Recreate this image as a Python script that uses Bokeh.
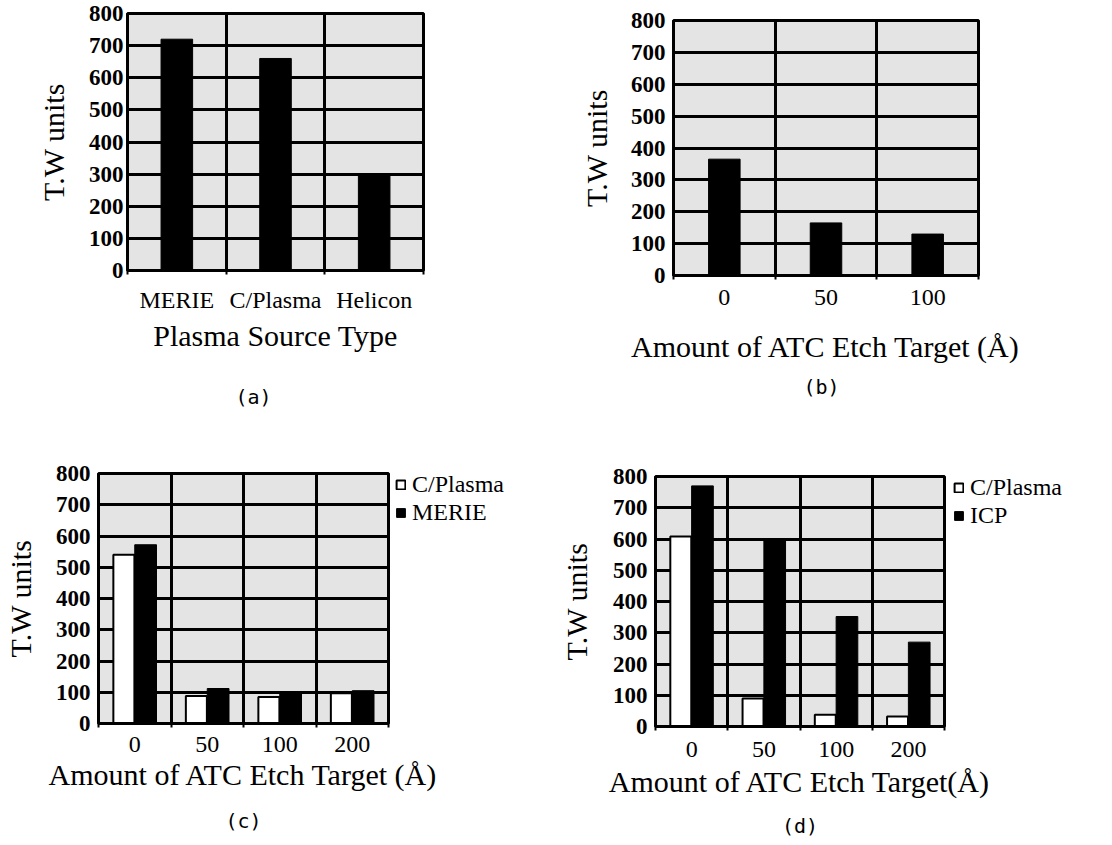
import numpy as np
from bokeh.plotting import figure
from bokeh.models import (Range1d, FixedTicker, Legend, LegendItem, ColumnDataSource,
                          LinearAxis, Title)
from bokeh.transform import dodge
from bokeh.embed import file_html
from bokeh.resources import INLINE

# ---------------- data ----------------
y_ticks = [0, 100, 200, 300, 400, 500, 600, 700, 800]

a_cats = ["MERIE", "C/Plasma", "Helicon"]
a_vals = [720, 660, 300]

b_cats = ["0", "50", "100"]
b_vals = [365, 165, 130]

c_cats = ["0", "50", "100", "200"]
c_cplasma = [540, 88, 85, 97]
c_merie = [572, 112, 100, 105]

d_cats = ["0", "50", "100", "200"]
d_cplasma = [608, 90, 38, 32]
d_icp = [770, 595, 352, 270]

a_xtitle = "Plasma Source Type"
b_xtitle = "Amount of ATC Etch Target (Å)"
c_xtitle = "Amount of ATC Etch Target (Å)"
d_xtitle = "Amount of ATC Etch Target(Å)"
y_title = "T.W units"

SERIF = "Liberation Serif"
MONO = "DejaVu Sans Mono"
BG = "#e4e4e4"


def make_fig(name, cats, w, h, bl, br, bt, bb, xtitle,
             ytick_standoff, ylab_standoff, xtick_standoff, xlab_standoff):
    n = len(cats)
    p = figure(name=name, width=w, height=h,
               x_range=Range1d(-0.5, n - 0.5), y_range=Range1d(0, 800),
               output_backend="svg", toolbar_location=None,
               min_border_left=bl, min_border_right=br,
               min_border_top=bt, min_border_bottom=bb)
    p.background_fill_color = BG
    p.border_fill_alpha = 0
    p.outline_line_color = "black"
    p.outline_line_width = 3

    # x axis
    p.xaxis.ticker = FixedTicker(ticks=list(range(n)),
                                 minor_ticks=[i - 0.5 for i in range(n + 1)])
    p.xaxis.major_label_overrides = {i: c for i, c in enumerate(cats)}
    p.xaxis.major_label_text_font = SERIF
    p.xaxis.major_label_text_font_size = "24px"
    p.xaxis.major_label_text_color = "black"
    p.xaxis.major_label_standoff = xtick_standoff
    p.xaxis.major_tick_line_color = None
    p.xaxis.major_tick_out = 0
    p.xaxis.major_tick_in = 0
    p.xaxis.minor_tick_line_color = "black"
    p.xaxis.minor_tick_line_width = 2
    p.xaxis.minor_tick_out = 4
    p.xaxis.minor_tick_in = 0
    p.xaxis.axis_line_color = "black"
    p.xaxis.axis_line_width = 3
    p.xaxis.axis_label = xtitle
    p.xaxis.axis_label_text_font = SERIF
    p.xaxis.axis_label_text_font_size = "30px"
    p.xaxis.axis_label_text_font_style = "normal"
    p.xaxis.axis_label_text_color = "black"
    p.xaxis.axis_label_standoff = xlab_standoff

    # y axis
    p.yaxis.ticker = FixedTicker(ticks=y_ticks)
    p.yaxis.major_label_text_font = SERIF
    p.yaxis.major_label_text_font_size = "23px"
    p.yaxis.major_label_text_font_style = "bold"
    p.yaxis.major_label_text_color = "black"
    p.yaxis.major_label_standoff = ytick_standoff
    p.yaxis.major_tick_line_color = None
    p.yaxis.major_tick_out = 0
    p.yaxis.major_tick_in = 0
    p.yaxis.minor_tick_line_color = None
    p.yaxis.axis_line_color = "black"
    p.yaxis.axis_line_width = 3
    p.yaxis.axis_label = y_title
    p.yaxis.axis_label_text_font = SERIF
    p.yaxis.axis_label_text_font_size = "30px"
    p.yaxis.axis_label_text_font_style = "normal"
    p.yaxis.axis_label_text_color = "black"
    p.yaxis.axis_label_standoff = ylab_standoff

    # grids (lines at the band boundaries)
    p.xgrid.ticker = FixedTicker(ticks=[i + 0.5 for i in range(n - 1)])
    p.ygrid.ticker = FixedTicker(ticks=y_ticks[1:-1])
    for g in (p.xgrid, p.ygrid):
        g.grid_line_color = "black"
        g.grid_line_width = 3
    return p


def tag_title(p, tag, offset, standoff):
    p.add_layout(Title(text=tag, align="left", offset=offset, standoff=standoff,
                       text_font=MONO, text_font_size="20px", text_font_style="normal",
                       text_color="black"), "below")


def tag_axis(p, tag, standoff):
    p.add_layout(LinearAxis(ticker=FixedTicker(ticks=[]),
                            axis_line_color=None,
                            major_tick_line_color=None, minor_tick_line_color=None,
                            major_tick_out=0, major_tick_in=0,
                            minor_tick_out=0, minor_tick_in=0,
                            major_label_standoff=0,
                            major_label_text_font_size="0px",
                            axis_label=tag, axis_label_standoff=standoff,
                            axis_label_text_font=MONO,
                            axis_label_text_font_size="20px",
                            axis_label_text_font_style="normal",
                            axis_label_text_color="black"), "below")


# (a)
pa = make_fig("pa", a_cats, 556, 445, 127, 133, 13, 175, a_xtitle, 4, 16, 12, 3)
tag_title(pa, "(a)", 108, 56)
src_a = ColumnDataSource(dict(x=list(range(len(a_cats))), v=a_vals))
pa.vbar(x="x", top="v", width=0.32, source=src_a, fill_color="black", line_color="black")

# (b)
pb = make_fig("pb", b_cats, 556, 420, 117, 134, 20, 145, b_xtitle, 8, 15, 10, 22)
tag_title(pb, "(b)", 130, 14)
src_b = ColumnDataSource(dict(x=list(range(len(b_cats))), v=b_vals))
pb.vbar(x="x", top="v", width=0.31, source=src_b, fill_color="black", line_color="black")


def grouped(p, cats, s1, s2):
    src = ColumnDataSource(dict(x=list(range(len(cats))), s1=s1, s2=s2))
    p.vbar(x=dodge("x", -0.15, range=p.x_range), top="s1", width=0.29, source=src,
           fill_color="white", line_color="black", line_width=2)
    p.vbar(x=dodge("x", 0.15, range=p.x_range), top="s2", width=0.3, source=src,
           fill_color="black", line_color="black")


def legend_fig(name, n1, n2):
    # a small frameless figure that only carries the series key
    lf = figure(name=name, width=140, height=62, x_range=Range1d(0, 1), y_range=Range1d(0, 1),
                x_axis_type=None, y_axis_type=None, output_backend="svg",
                toolbar_location=None, min_border=0)
    lf.outline_line_color = None
    lf.background_fill_alpha = 0
    lf.border_fill_alpha = 0
    lf.grid.visible = False
    key = ColumnDataSource(dict(x=np.array([np.nan]), top=np.array([np.nan])))
    r1 = lf.vbar(x="x", top="top", width=0.3, source=key,
                 fill_color="white", line_color="black", line_width=2)
    r2 = lf.vbar(x="x", top="top", width=0.3, source=key,
                 fill_color="black", line_color="black")
    leg = Legend(items=[LegendItem(label=n1, renderers=[r1]),
                        LegendItem(label=n2, renderers=[r2])],
                 location="top_left", margin=0, padding=0, spacing=1,
                 glyph_width=11, glyph_height=11, label_standoff=6,
                 label_text_font=SERIF, label_text_font_size="24px",
                 label_text_color="black",
                 border_line_color=None, background_fill_alpha=0)
    lf.add_layout(leg)
    return lf


# (c)
pc = make_fig("pc", c_cats, 556, 425, 95, 168, 53, 122, c_xtitle, 8, 16, 9, 3)
tag_axis(pc, "(c)", 15)
grouped(pc, c_cats, c_cplasma, c_merie)
lc = legend_fig("lc", "C/Plasma", "MERIE")

# (d)
pd = make_fig("pd", d_cats, 556, 425, 85, 168, 56, 119, d_xtitle, 8, 17, 11, 5)
tag_axis(pd, "(d)", 13)
grouped(pd, d_cats, d_cplasma, d_icp)
ld = legend_fig("ld", "C/Plasma", "ICP")

# page: each panel placed at its own spot of the 1112x845 sheet
POS = {"pa": (0, 0), "pb": (556, 0), "pc": (0, 420), "pd": (556, 420),
       "lc": (395, 471), "ld": (953, 474)}
PAGE = """
{% block contents %}
{% for doc in docs %}{% for root in doc.roots %}
<div style="position:absolute; left:{{ pos[root.name][0] }}px; top:{{ pos[root.name][1] }}px;">
<div id="{{ root.elementid }}" style="display: contents;"></div>
</div>
{% endfor %}{% endfor %}
{% endblock %}
"""

open("out.html", "w").write(file_html([pa, pb, pc, pd, lc, ld], INLINE,
                                      template=PAGE, template_variables={"pos": POS}))
